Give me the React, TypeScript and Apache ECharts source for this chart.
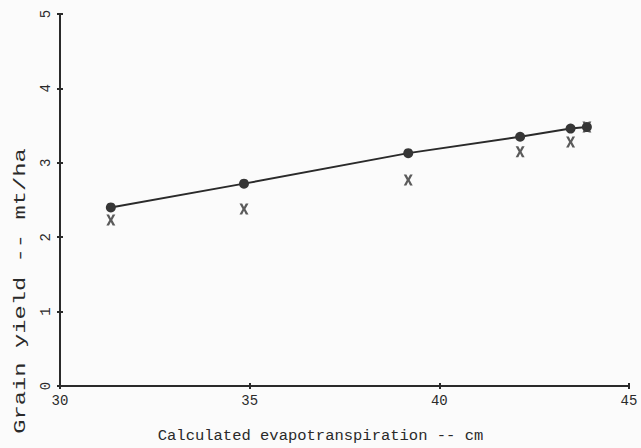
import React, { useEffect, useRef } from "react";
import * as echarts from "echarts";

const xTicks = [30, 35, 40, 45];
const yTicks = [0, 1, 2, 3, 4, 5];
const etCm = [31.34, 34.85, 39.18, 42.13, 43.46, 43.89];
const yieldCircle = [2.4, 2.72, 3.13, 3.35, 3.46, 3.48];
const yieldCross = [2.23, 2.38, 2.77, 3.15, 3.28, 3.48];
const xTitle = "Calculated evapotranspiration -- cm";
const yTitle = "Grain yield -- mt/ha";

const FONT = "Liberation Mono";
const INK = "#2a2a2a";
const X_SYMBOL =
  "path://M0,0 L3,0 L5,4 L7,0 L10,0 L6.6,6 L10,12 L7,12 L5,8 L3,12 L0,12 L3.4,6 Z";

export default function App() {
  const ref = useRef<HTMLDivElement>(null);
  useEffect(() => {
    if (!ref.current) return;
    const chart = echarts.init(ref.current, undefined, { renderer: "svg" });
    const circleData = etCm.map((x, i) => [x, yieldCircle[i]]);
    const crossData = etCm.map((x, i) => [x, yieldCross[i]]);
    const axisBase = {
      type: "value" as const,
      splitLine: { show: false },
    };
    chart.setOption({
      animation: false,
      backgroundColor: "#fbfbfb",
      grid: { left: 60, right: 12, top: 14, bottom: 62 },
      xAxis: [
        {
          ...axisBase,
          min: xTicks[0],
          max: xTicks[xTicks.length - 1],
          interval: 5,
          axisLine: { show: true, lineStyle: { color: INK, width: 2 } },
          axisTick: { show: true, length: 3, lineStyle: { color: INK, width: 2 } },
          axisLabel: { fontFamily: FONT, fontSize: 14, color: INK, margin: 8 },
        },
        {
          ...axisBase,
          position: "bottom",
          min: xTicks[0],
          max: xTicks[xTicks.length - 1],
          interval: 5,
          axisLine: { show: false },
          axisTick: { show: true, inside: true, length: 3, lineStyle: { color: INK, width: 2 } },
          axisLabel: { show: false },
        },
      ],
      yAxis: [
        {
          ...axisBase,
          min: yTicks[0],
          max: yTicks[yTicks.length - 1],
          interval: 1,
          axisLine: { show: true, lineStyle: { color: INK, width: 2 } },
          axisTick: { show: true, length: 3, lineStyle: { color: INK, width: 2 } },
          axisLabel: { show: false },
        },
        {
          ...axisBase,
          position: "left",
          min: yTicks[0],
          max: yTicks[yTicks.length - 1],
          interval: 1,
          axisLine: { show: false },
          axisTick: { show: true, inside: true, length: 3, lineStyle: { color: INK, width: 2 } },
          axisLabel: { show: false },
        },
      ],
      series: [
        {
          type: "scatter",
          data: crossData,
          symbol: X_SYMBOL,
          symbolSize: [9, 11],
          itemStyle: { color: "#333333" },
          z: 3,
        },
        {
          type: "line",
          data: circleData,
          symbol: "circle",
          symbolSize: 10,
          showSymbol: true,
          lineStyle: { color: INK, width: 2 },
          itemStyle: { color: "#363636", borderWidth: 0 },
          z: 4,
        },
      ],
    });
    const yLabelGraphics = yTicks.map((v) => ({
      type: "text",
      x: 46,
      y: chart.convertToPixel({ yAxisIndex: 0 }, v) as number,
      rotation: Math.PI / 2,
      style: {
        text: String(v),
        fontFamily: FONT,
        fontSize: 14,
        fill: INK,
        align: "center",
        verticalAlign: "middle",
      },
    }));
    chart.setOption({
      graphic: [
        {
          type: "text",
          left: "center",
          top: 428,
          style: { text: xTitle, fontFamily: FONT, fontSize: 15.5, fill: INK },
        },
        {
          type: "text",
          x: 20,
          y: 291,
          rotation: Math.PI / 2,
          scaleX: 1.4,
          style: {
            text: yTitle,
            fontFamily: FONT,
            fontSize: 17,
            fill: INK,
            align: "center",
            verticalAlign: "middle",
          },
        },
        ...yLabelGraphics,
      ],
    });
    return () => chart.dispose();
  }, []);
  return (
    <div
      ref={ref}
      style={{ position: "fixed", left: 0, top: 0, width: 641, height: 448 }}
    />
  );
}
